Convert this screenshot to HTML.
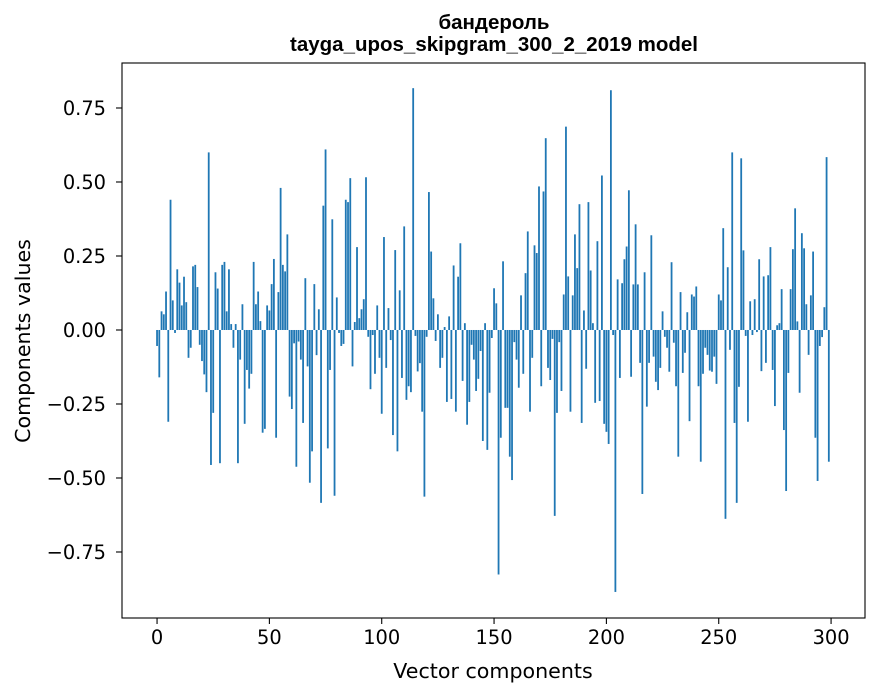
<!DOCTYPE html>
<html><head><meta charset="utf-8"><style>
html,body{margin:0;padding:0;background:#fff;}
svg{display:block;font-family:"DejaVu Sans","Liberation Sans",sans-serif;}
</style></head><body>
<svg id="chart" width="880" height="696" viewBox="0 0 880 696" xmlns="http://www.w3.org/2000/svg">
<rect width="880" height="696" fill="#fff"/>
<text x="494" y="29" text-anchor="middle" font-size="20.5" font-weight="bold" font-family="Liberation Sans, sans-serif">бандероль</text>
<text x="494" y="51" text-anchor="middle" font-size="20.5" font-weight="bold" font-family="Liberation Sans, sans-serif">tayga_upos_skipgram_300_2_2019 model</text>
<g id="bars"></g>
<g id="xticks"></g>
<g id="yticks"></g>
<rect x="122" y="63" width="743" height="555" fill="none" stroke="#000" stroke-width="1.1"/>
<text x="493" y="678" text-anchor="middle" font-size="20.6">Vector components</text>
<text transform="translate(30,341) rotate(-90)" text-anchor="middle" font-size="20.6">Components values</text>
</svg>
<script>
const values = [
-0.054,-0.16,0.063,0.053,0.13,-0.31,0.44,0.10,-0.01,0.205,
0.16,0.083,0.18,0.094,-0.094,-0.06,0.215,0.22,0.145,-0.05,
-0.105,-0.15,-0.21,0.60,-0.456,-0.28,0.195,0.14,-0.45,0.22,
0.23,0.063,0.205,0.02,-0.06,0.02,-0.45,-0.10,0.087,-0.317,
-0.135,-0.198,-0.148,0.23,0.087,0.13,0.03,-0.347,-0.334,0.083,
0.066,0.155,0.24,-0.364,0.128,0.48,0.22,0.198,0.323,-0.225,
-0.267,-0.045,-0.462,-0.039,-0.10,-0.314,0.175,-0.123,-0.516,-0.41,
0.155,-0.085,0.07,-0.584,0.42,0.61,-0.40,-0.135,0.374,-0.56,
0.11,-0.01,-0.054,-0.047,0.44,0.432,0.513,-0.123,0.027,0.28,
0.04,0.07,0.104,0.516,-0.023,-0.20,-0.017,-0.148,0.083,-0.094,
-0.283,0.314,-0.128,0.074,-0.034,-0.355,0.27,-0.41,0.134,-0.162,
0.35,-0.236,-0.19,-0.21,0.817,-0.02,-0.14,-0.112,-0.276,-0.563,
-0.023,0.466,0.265,0.107,-0.037,0.053,-0.128,-0.094,0.01,-0.243,
0.046,-0.233,0.218,-0.276,0.18,0.293,-0.172,0.023,-0.32,-0.243,
-0.05,-0.10,-0.206,-0.165,-0.071,-0.375,0.023,-0.405,-0.212,-0.027,
0.141,0.09,-0.826,-0.364,0.232,-0.263,-0.263,-0.428,-0.507,-0.041,
-0.10,-0.195,0.117,-0.148,0.192,0.333,-0.276,-0.094,0.286,0.26,
0.485,-0.19,0.468,0.648,-0.128,-0.169,-0.03,-0.628,-0.28,-0.041,
-0.206,0.12,0.687,0.181,-0.276,0.117,0.323,0.209,0.425,-0.314,
0.066,-0.131,0.432,0.201,0.023,-0.246,0.30,-0.24,0.522,-0.317,
-0.344,-0.385,0.81,-0.017,-0.885,0.171,-0.162,0.158,0.239,0.282,
0.472,-0.158,0.154,0.357,0.154,-0.111,-0.554,0.195,-0.259,-0.111,
0.32,-0.09,-0.175,-0.203,-0.128,0.063,-0.023,-0.06,-0.141,0.229,
-0.043,-0.19,-0.428,0.128,-0.145,-0.077,0.06,-0.308,0.12,0.113,
0.147,-0.19,-0.445,-0.148,-0.06,-0.084,-0.137,-0.141,-0.09,-0.182,
0.12,0.10,0.344,-0.638,0.212,-0.067,0.60,-0.314,-0.584,-0.192,
0.58,0.269,-0.02,-0.31,0.097,-0.017,0.104,-0.007,0.239,-0.139,
0.181,-0.111,0.185,0.28,-0.135,-0.257,0.016,0.023,0.138,-0.338,
-0.544,-0.145,0.138,0.273,0.411,0.029,-0.212,0.327,0.276,0.087,
-0.084,0.117,0.265,-0.364,-0.51,-0.054,-0.024,0.077,0.584,-0.445
];
const xTickValues = [0,50,100,150,200,250,300];
const yTickValues = [-0.75,-0.5,-0.25,0,0.25,0.5,0.75];
const yTickLabels = ["\u22120.75","\u22120.50","\u22120.25","0.00","0.25","0.50","0.75"];

const NS="http://www.w3.org/2000/svg";
const X0=122,X1=865,Y0=63,Y1=618, XMIN=-15.6, XMAX=315.1, YMIN=-0.973, YMAX=0.902;
function xs(v){return X0+(v-XMIN)/(XMAX-XMIN)*(X1-X0);}
function ys(v){return Y1-(v-YMIN)/(YMAX-YMIN)*(Y1-Y0);}
function mk(t,a,p){const e=document.createElementNS(NS,t);for(const k in a)e.setAttribute(k,a[k]);p.appendChild(e);return e;}
const bars=document.getElementById('bars');
values.forEach((v,i)=>{
  const xl=xs(i-0.4), xr=xs(i+0.4);
  const y=Math.min(ys(v),ys(0)), h=Math.abs(ys(v)-ys(0));
  const r=mk('rect',{x:xl,y:y,width:xr-xl,height:h,fill:'#1f77b4'},bars);
  
  
});
const xt=document.getElementById('xticks');
xTickValues.forEach(v=>{
  const x=xs(v);
  const l=mk('line',{x1:x,x2:x,y1:Y1,y2:Y1+6,stroke:'#000','stroke-width':1.1},xt);
  
  
  const t=mk('text',{x:x,y:Y1+26,'text-anchor':'middle','font-size':19.4},xt);
  t.textContent=String(v);
  
  
});
const yt=document.getElementById('yticks');
yTickValues.forEach((v,i)=>{
  const y=ys(v);
  const l=mk('line',{x1:X0-6,x2:X0,y1:y,y2:y,stroke:'#000','stroke-width':1.1},yt);
  
  
  const t=mk('text',{x:X0-16,y:y+7,'text-anchor':'end','font-size':19.4},yt);
  t.textContent=yTickLabels[i];
  
  
});
</script>
</body></html>
